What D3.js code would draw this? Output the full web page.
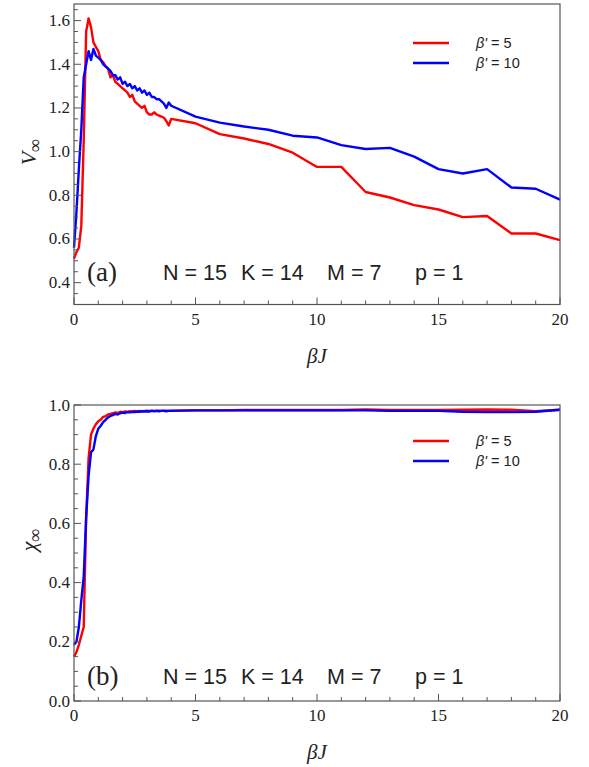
<!DOCTYPE html>
<html>
<head>
<meta charset="utf-8">
<script src="https://cdn.jsdelivr.net/npm/d3@7"></script>
<style>
  body { margin: 0; background: #fff; }
  svg { display: block; }
  .serif { font-family: "Liberation Serif", "Times New Roman", "DejaVu Serif", serif; }
  .sans { font-family: "Liberation Sans", Arial, Helvetica, sans-serif; }
</style>
</head>
<body>
<svg id="chart" width="589" height="767"></svg>
<script>
const svg = d3.select("#chart");

// beta*J grid: fine steps up to 4, then integer steps
const xFine = d3.range(0, 41).map(i => i / 10);
const xCoarse = [5, 6, 7, 8, 9, 10, 11, 12, 13, 14, 15, 16, 17, 18, 19, 20];
const betaJ = xFine.concat(xCoarse);

// (a) V_inf
const vRed = [
  0.51, 0.54, 0.56, 0.66, 1.05, 1.55, 1.61, 1.57, 1.50, 1.48,
  1.46, 1.42, 1.41, 1.39, 1.38, 1.34, 1.35, 1.32, 1.31, 1.30,
  1.29, 1.28, 1.27, 1.25, 1.26, 1.23, 1.22, 1.21, 1.20, 1.21,
  1.18, 1.17, 1.17, 1.18, 1.17, 1.165, 1.16, 1.155, 1.14, 1.12,
  1.15,
  1.13, 1.08, 1.06, 1.035, 0.995, 0.93, 0.93, 0.815, 0.79, 0.755,
  0.735, 0.70, 0.705, 0.625, 0.625, 0.595
];
const vBlue = [
  0.56, 0.72, 0.92, 1.10, 1.34, 1.40, 1.46, 1.42, 1.47, 1.44,
  1.43, 1.42, 1.40, 1.39, 1.38, 1.37, 1.35, 1.35, 1.33, 1.34,
  1.31, 1.32, 1.30, 1.31, 1.29, 1.30, 1.28, 1.29, 1.27, 1.28,
  1.26, 1.27, 1.25, 1.25, 1.24, 1.24, 1.23, 1.22, 1.20, 1.225,
  1.21,
  1.16, 1.133, 1.115, 1.10, 1.073, 1.065, 1.03, 1.012, 1.017, 0.977,
  0.92, 0.90, 0.92, 0.836, 0.83, 0.78
];

// (b) chi_inf
const chiRed = [
  0.15, 0.165, 0.19, 0.22, 0.25, 0.62, 0.82, 0.90, 0.92, 0.935,
  0.945, 0.95, 0.96, 0.962, 0.968, 0.97, 0.972, 0.975, 0.973, 0.977,
  0.976, 0.978, 0.977, 0.979, 0.978, 0.98, 0.978, 0.98, 0.979, 0.98,
  0.981, 0.98, 0.981, 0.98, 0.981, 0.981, 0.98, 0.981, 0.981, 0.98,
  0.981,
  0.982, 0.982, 0.983, 0.983, 0.983, 0.983, 0.983, 0.985, 0.983, 0.983,
  0.983, 0.984, 0.985, 0.984, 0.979, 0.984
];
const chiBlue = [
  0.19, 0.20, 0.25, 0.34, 0.42, 0.62, 0.76, 0.84, 0.85, 0.895,
  0.92, 0.93, 0.942, 0.95, 0.958, 0.963, 0.966, 0.97, 0.968, 0.972,
  0.974, 0.973, 0.976, 0.975, 0.977, 0.976, 0.978, 0.977, 0.979, 0.978,
  0.979, 0.978, 0.98, 0.979, 0.98, 0.979, 0.98, 0.98, 0.979, 0.98,
  0.98,
  0.982, 0.982, 0.982, 0.982, 0.982, 0.982, 0.982, 0.982, 0.98, 0.98,
  0.98, 0.977, 0.976, 0.976, 0.977, 0.984
];

const seriesNames = ["β' = 5", "β' = 10"];
const seriesColors = ["#ff0000", "#0000ff"];

const xTicks = [0, 5, 10, 15, 20];
const xMinor = d3.range(0, 21, 1);

const frameColor = "#555";

function panel(opt) {
  const x = d3.scaleLinear().domain([0, 20]).range([74, 560]);
  const y = d3.scaleLinear().domain(opt.yDomain).range([opt.bottom, opt.top]);
  const g = svg.append("g");

  // data lines
  const line = d3.line()
    .x((d, i) => x(betaJ[i]))
    .y(d => y(d));
  opt.series.forEach((s, k) => {
    g.append("path")
      .datum(s)
      .attr("fill", "none")
      .attr("stroke", seriesColors[k])
      .attr("stroke-width", 2.4)
      .attr("stroke-linejoin", "round")
      .attr("d", line);
  });

  // frame
  g.append("rect")
    .attr("x", x(0)).attr("y", opt.top)
    .attr("width", x(20) - x(0)).attr("height", opt.bottom - opt.top)
    .attr("fill", "none").attr("stroke", frameColor).attr("stroke-width", 1.2);

  // x ticks (inward)
  g.selectAll(".xminor").data(xMinor).join("line")
    .attr("x1", d => x(d)).attr("x2", d => x(d))
    .attr("y1", opt.bottom).attr("y2", d => opt.bottom - (d % 5 === 0 ? 7 : 4))
    .attr("stroke", frameColor).attr("stroke-width", 1);
  g.selectAll(".xlab").data(xTicks).join("text")
    .attr("class", "serif")
    .attr("x", d => x(d)).attr("y", opt.bottom + 20)
    .attr("text-anchor", "middle")
    .attr("font-size", 17).attr("fill", "#222")
    .text(d => d);

  // y ticks
  g.selectAll(".yminor").data(opt.yMinor).join("line")
    .attr("x1", x(0)).attr("x2", d => x(0) + (opt.yTicks.some(t => Math.abs(t - d) < 1e-6) ? 7 : 4))
    .attr("y1", d => y(d)).attr("y2", d => y(d))
    .attr("stroke", frameColor).attr("stroke-width", 1);
  g.selectAll(".ylab").data(opt.yTicks).join("text")
    .attr("class", "serif")
    .attr("x", x(0) - 4).attr("y", d => y(d) + 5.5)
    .attr("text-anchor", "end")
    .attr("font-size", 17).attr("fill", "#222")
    .text(d => d3.format(".1f")(d));

  // axis titles
  g.append("text")
    .attr("class", "serif")
    .attr("x", x(10)).attr("y", opt.bottom + 58)
    .attr("text-anchor", "middle")
    .attr("font-style", "italic").attr("font-size", 21)
    .attr("fill", "#222")
    .text("βJ");
  const yt = g.append("text")
    .attr("class", "serif")
    .attr("transform", `translate(36,${opt.yTitleY}) rotate(-90)`)
    .attr("text-anchor", "middle")
    .attr("font-style", "italic").attr("font-size", 22)
    .attr("fill", "#222");
  yt.append("tspan").text(opt.yTitle);
  yt.append("tspan").attr("dy", 5).attr("font-size", 18).text("∞");

  // legend
  seriesNames.forEach((name, k) => {
    const ly = opt.legendY + k * 20;
    g.append("line")
      .attr("x1", 413).attr("x2", 449).attr("y1", ly).attr("y2", ly)
      .attr("stroke", seriesColors[k]).attr("stroke-width", 2.4);
    const t = g.append("text")
      .attr("class", "sans")
      .attr("x", 476).attr("y", ly + 5)
      .attr("font-size", 14.5).attr("fill", "#222");
    t.append("tspan").attr("font-style", "italic").text("β'");
    t.append("tspan").text(name.slice(2));
  });

  // panel label and parameters
  g.append("text")
    .attr("class", "serif")
    .attr("x", 87).attr("y", opt.labelY + 9)
    .attr("font-size", 27).attr("fill", "#222")
    .text(opt.label);
  const params = [["N = 15", 163], ["K = 14", 241], ["M = 7", 327], ["p = 1", 415]];
  params.forEach(p => {
    g.append("text")
      .attr("class", "sans")
      .attr("x", p[1]).attr("y", opt.labelY + 8)
      .attr("font-size", 21.5).attr("fill", "#222")
      .text(p[0]);
  });
}

panel({
  top: 4, bottom: 304.5,
  yDomain: [0.3, 1.676],
  yTicks: [0.4, 0.6, 0.8, 1.0, 1.2, 1.4, 1.6],
  yMinor: d3.range(0, 28).map(i => 0.3 + i * 0.05).filter(v => v <= 1.676),
  series: [vRed, vBlue],
  yTitle: "V", yTitleY: 152,
  legendY: 43,
  label: "(a)", labelY: 272
});

panel({
  top: 405, bottom: 701,
  yDomain: [0, 1.0],
  yTicks: [0.0, 0.2, 0.4, 0.6, 0.8, 1.0],
  yMinor: d3.range(0, 21).map(i => i * 0.05),
  series: [chiRed, chiBlue],
  yTitle: "χ", yTitleY: 540,
  legendY: 441,
  label: "(b)", labelY: 676
});
</script>
</body>
</html>
